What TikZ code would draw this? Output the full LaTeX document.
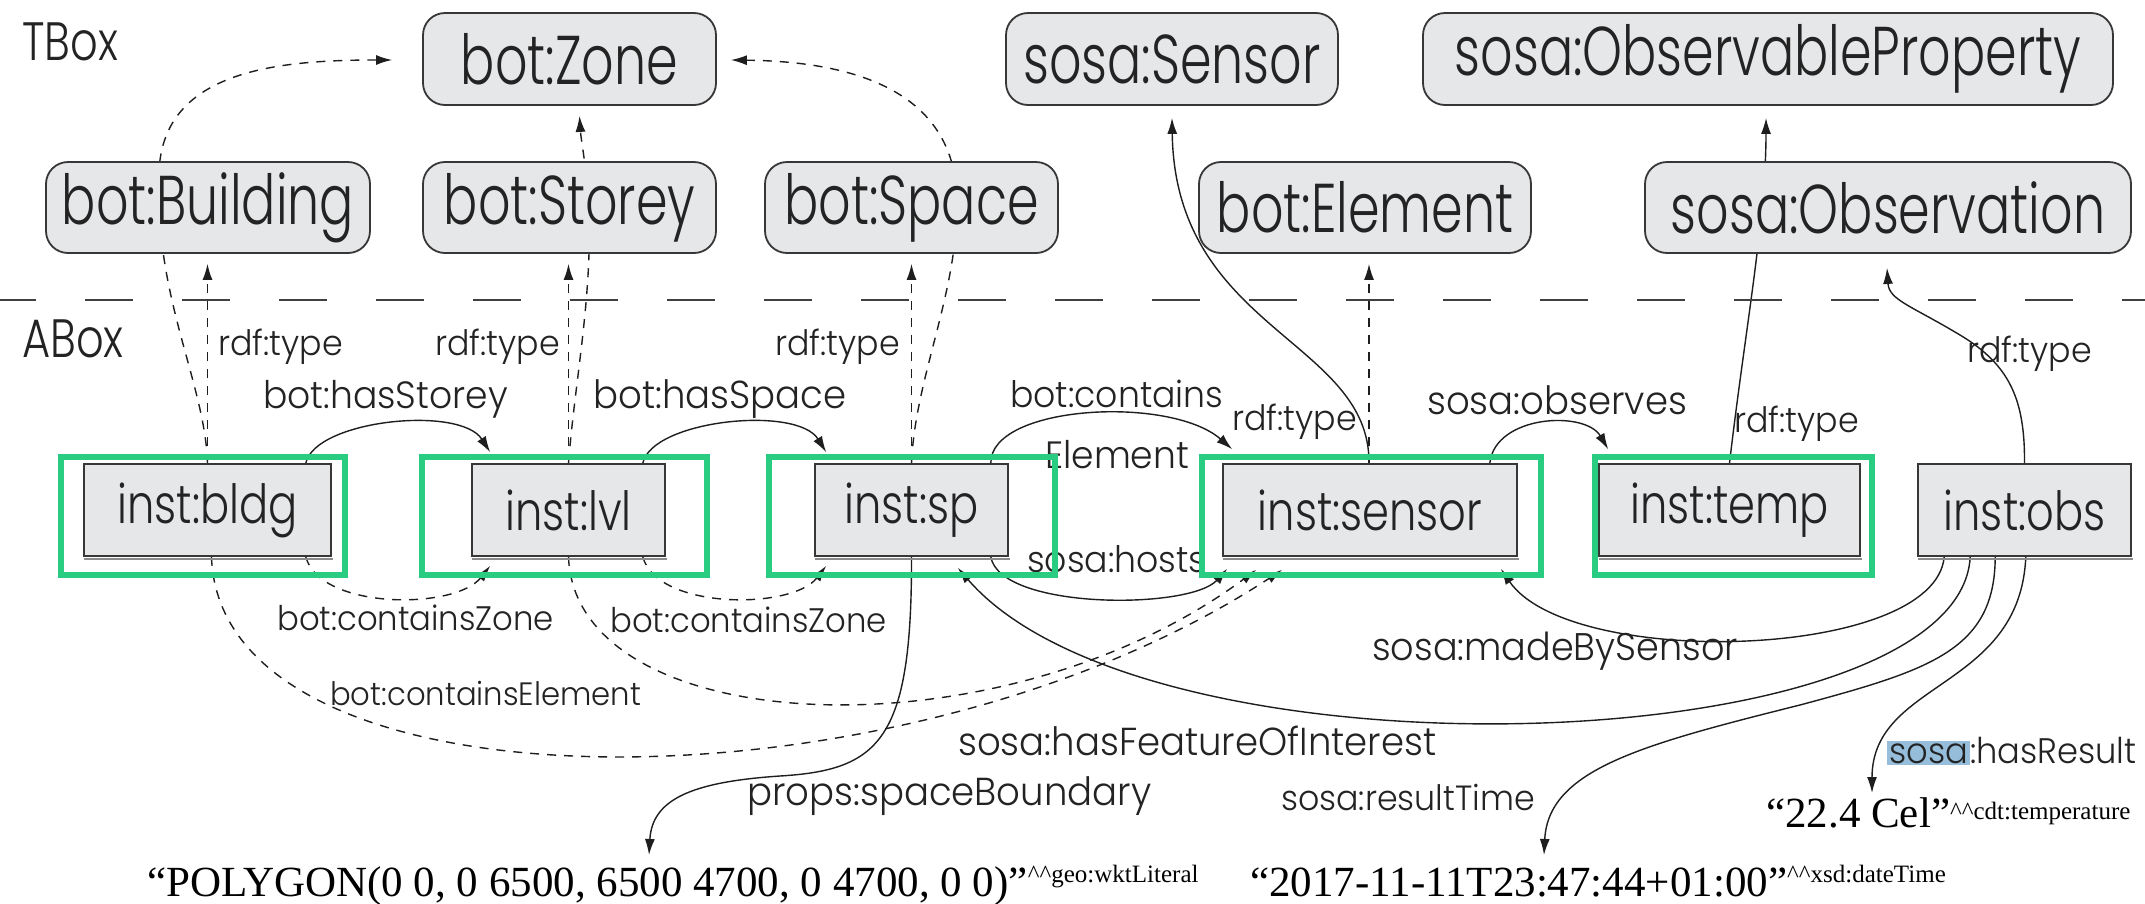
\documentclass[tikz,border=0pt]{standalone}
\usepackage{fontspec}
\usetikzlibrary{arrows.meta,calc}
\newfontfamily\nodefont[FakeStretch=0.8]{Poppins Light}
\newfontfamily\clsfont[FakeStretch=0.735]{Poppins Light}
\newfontfamily\labfont[FakeStretch=0.95]{Poppins Light}
\setmainfont{Liberation Serif}
\definecolor{nodefill}{RGB}{230,231,233}
\definecolor{nodedraw}{RGB}{55,55,55}
\definecolor{boxgreen}{RGB}{40,205,130}
\definecolor{hlblue}{RGB}{150,190,218}
\definecolor{txt}{RGB}{35,35,35}
\definecolor{edgec}{RGB}{30,30,30}
\pgfdeclarelayer{bg}\pgfdeclarelayer{fg}\pgfsetlayers{bg,main,fg}
\begin{document}
\begin{tikzpicture}[x=1pt,y=-1pt,
  cls/.style={draw=nodedraw,fill=nodefill,line width=1.8pt,rounded corners=22pt,inner sep=0pt,minimum height=92pt,text=txt,font=\clsfont\fontsize{69}{69}\selectfont},
  ind/.style={draw=nodedraw,fill=nodefill,line width=1.6pt,inner sep=0pt,minimum height=92pt,text=txt,font=\nodefont\fontsize{54}{54}\selectfont},
  lab/.style={anchor=base west,inner sep=0pt,text=txt,font=\labfont\fontsize{#1}{#1}\selectfont},
  lab/.default=36,
  lit/.style={anchor=base west,inner sep=0pt,text=black,font=\fontsize{43}{43}\selectfont},
  box/.style={anchor=base west,inner sep=0pt,text=txt,font=\nodefont\fontsize{54}{54}\selectfont},
  edge/.style={line width=1.4pt,draw=edgec},
  arr/.style={-{Latex[length=16pt,width=10pt]}},
  dsh/.style={dash pattern=on 9pt off 8pt},
  grn/.style={draw=boxgreen,line width=5.5pt},
  shadowline/.style={line width=2.5pt,draw=black!45}
]
\useasboundingbox (0,0) rectangle (2145,903);
% TBox classes
\node[cls,minimum width=293pt] (zone) at (569.5,59) {bot:Zone};
\node[cls,minimum width=332pt] (ssensor) at (1172,59) {sosa:Sensor};
\node[cls,minimum width=690pt] (obsprop) at (1768,59) {sosa:ObservableProperty};
\node[cls,minimum width=324pt,minimum height=91pt] (building) at (208,207.5) {bot:Building};
\node[cls,minimum width=293pt,minimum height=91pt] (storey) at (569.5,207.5) {bot:Storey};
\node[cls,minimum width=293pt,minimum height=91pt] (space) at (911.5,207.5) {bot:Space};
\node[cls,minimum width=332pt,minimum height=91pt] (element) at (1365,207.5) {bot:Element};
\node[cls,minimum width=486pt,minimum height=91pt] (observation) at (1888,207.5) {sosa:Observation};
% ABox individuals
\node[ind,minimum width=247pt] (bldg) at (207.5,510) {inst:bldg};
\node[ind,minimum width=193pt] (lvl) at (568.5,510) {inst:lvl};
\node[ind,minimum width=193pt] (sp) at (911.5,510) {inst:sp};
\node[ind,minimum width=294pt] (sensor) at (1370,510) {inst:sensor};
\node[ind,minimum width=261pt] (temp) at (1729.5,510) {inst:temp};
\node[ind,minimum width=213pt] (obs) at (2024.5,510) {inst:obs};
\foreach \n in {bldg,lvl,sp,sensor,temp,obs}{
  \draw[shadowline] ($(\n.south west)+(1,2)$) -- ($(\n.south east)+(1,2)$);
}
% section labels
\node[box] (tbox) at (22,60) {TBox};
\node[box] (abox) at (22,357) {ABox};
\draw[line width=2pt,draw=black!75,dash pattern=on 48pt off 49pt] (-12,300) -- (2145,300);
% literals
\node[lit] (poly) at (147,896) {“POLYGON(0 0, 0 6500, 6500 4700, 0 4700, 0 0)”\raisebox{14pt}{\fontsize{25}{25}\selectfont\textasciicircum\textasciicircum geo:wktLiteral}};
\node[lit] (date) at (1250,896) {“2017-11-11T23:47:44+01:00”\raisebox{14pt}{\fontsize{25}{25}\selectfont\textasciicircum\textasciicircum xsd:dateTime}};
\node[lit] (cel) at (1766,827) {“22.4 Cel”\raisebox{8pt}{\fontsize{25}{25}\selectfont\textasciicircum\textasciicircum cdt:temperature}};
% edge labels
\node[lab=35] (l1) at (218,355) {rdf:type};
\node[lab=35] (l2) at (435,355) {rdf:type};
\node[lab=35] (l3) at (775,355) {rdf:type};
\node[lab=38] (l4) at (263,408) {bot:hasStorey};
\node[lab=39] (l5) at (593,408) {bot:hasSpace};
\node[lab=36.5] (l6) at (1010,407) {bot:contains};
\node[lab=38] (l7) at (1045,468) {Element};
\node[lab=35] (l8) at (1232,430) {rdf:type};
\node[lab=39] (l9) at (1427,414) {sosa:observes};
\node[lab=35] (l10) at (1734,432) {rdf:type};
\node[lab=35] (l11) at (1967,362) {rdf:type};
\node[lab=36.5] (l12) at (1027,572) {sosa:hosts};
\node[lab=34] (l13) at (277,630) {bot:containsZone};
\node[lab=34] (l14) at (610,632) {bot:containsZone};
\node[lab=32.3] (l15) at (330,705) {bot:containsElement};
\node[lab=38.5] (l16) at (1372,660) {sosa:madeBySensor};
\node[lab=39] (l17) at (958,755) {sosa:hasFeatureOfInterest};
\node[lab=39] (l18) at (747,805) {props:spaceBoundary};
\node[lab=35] (l19) at (1281,810) {sosa:resultTime};
\node[lab=35.5] (l20) at (1887,763) {{\setlength{\fboxsep}{2pt}\colorbox{hlblue}{sosa}}:hasResult};
\begin{pgfonlayer}{bg}
\fill[white] (0,0) rectangle (2145,903);
% TBox-level / type edges
\draw[edge,dsh,arr] (bldg.north) .. controls (205,380) and (150,290) .. (160,160) .. controls (172,70) and (280,60) .. ($(zone.west)+(-30,1)$);
\draw[edge,dsh,arr] (lvl.north) .. controls (575,380) and (592,300) .. (589,210) .. controls (587,170) and (581,140) .. ($(zone.south)+(10,10)$);
\draw[edge,dsh,arr] (sp.north) .. controls (915,380) and (955,300) .. (957,210) .. controls (960,120) and (900,62) .. ($(zone.east)+(14,1)$);
\draw[edge,dsh,arr,shorten >=10pt] (bldg.north) -- (bldg.north |- building.south);
\draw[edge,dsh,arr,shorten >=10pt] (lvl.north) -- (lvl.north |- storey.south);
\draw[edge,dsh,arr,shorten >=10pt] (sp.north) -- (sp.north |- space.south);
\draw[edge,dsh,arr,shorten >=10pt] ($(sensor.north)+(-1,0)$) -- ($(sensor.north |- element.south)+(-1,0)$);
\draw[edge,arr] ($(sensor.north)+(-1,0)$) .. controls (1370,340) and (1175,330) .. ($(ssensor.south)+(0,12)$);
\draw[edge,arr] (temp.north) .. controls (1745,330) and (1766,220) .. ($(obsprop.south)+(-2,12)$);
\draw[edge,arr] (obs.north) .. controls (2025,400) and (2010,365) .. (1960,335) .. controls (1910,305) and (1889,300) .. ($(observation.south)+(-1,14)$);
% ABox edges
\draw[edge,arr] ($(bldg.north east)+(-26,0)$) .. controls (315,420) and (460,405) .. ($(lvl.north west)+(19,-11)$);
\draw[edge,arr] ($(lvl.north east)+(-23,0)$) .. controls (652,420) and (797,405) .. ($(sp.north west)+(12,-11)$);
\draw[edge,arr] ($(sp.north east)+(-18,0)$) .. controls (990,405) and (1170,395) .. ($(sensor.north west)+(10,-14)$);
\draw[edge,arr] ($(sp.south east)+(-18,0)$) .. controls (1000,610) and (1190,610) .. ($(sensor.south west)+(5,12)$);
\draw[edge,arr] ($(sensor.north east)+(-28,0)$) .. controls (1495,415) and (1585,410) .. ($(temp.north west)+(10,-14)$);
\draw[edge,dsh,arr] ($(bldg.south east)+(-26,0)$) .. controls (320,610) and (455,610) .. ($(lvl.south west)+(19,9)$);
\draw[edge,dsh,arr] ($(lvl.south east)+(-23,0)$) .. controls (657,610) and (792,610) .. ($(sp.south west)+(12,9)$);
\draw[edge,dsh,arr] ($(bldg.south)+(4,0)$) .. controls (220,820) and (900,820) .. ($(sensor.south west)+(60,13)$);
\draw[edge,dsh,arr] (lvl.south) .. controls (575,740) and (1000,760) .. ($(sensor.south west)+(34,13)$);
\draw[edge,arr] ($(obs.south west)+(27,0)$) .. controls (1935,660) and (1570,670) .. ($(sensor.south east)+(-17,12)$);
\draw[edge,arr] ($(obs.south west)+(53,0)$) .. controls (1960,760) and (1150,790) .. ($(sp.south east)+(-51,11)$);
\draw[edge,arr] (sp.south) .. controls (912,740) and (880,770) .. (780,776) .. controls (690,782) and (652,800) .. ($(poly.base west)+(502,-41)$);
\draw[edge,arr] ($(obs.south west)+(78,0)$) .. controls (1995,650) and (1930,670) .. (1800,705) .. controls (1640,745) and (1548,770) .. ($(date.base west)+(294,-41)$);
\draw[edge,arr] ($(obs.south east)+(-106,0)$) .. controls (2020,690) and (1872,680) .. ($(cel.base west)+(106,-34)$);
\end{pgfonlayer}
\begin{pgfonlayer}{fg}
\draw[grn] ($(bldg.north west)+(-22,-6)$) rectangle ($(bldg.south east)+(13,18)$);
\draw[grn] ($(lvl.north west)+(-49,-6)$) rectangle ($(lvl.south east)+(41,18)$);
\draw[grn] ($(sp.north west)+(-45,-6)$) rectangle ($(sp.south east)+(46,18)$);
\draw[grn] ($(sensor.north west)+(-20,-6)$) rectangle ($(sensor.south east)+(23,18)$);
\draw[grn] ($(temp.north west)+(-3,-6)$) rectangle ($(temp.south east)+(11,18)$);
\end{pgfonlayer}
\end{tikzpicture}
\end{document}
